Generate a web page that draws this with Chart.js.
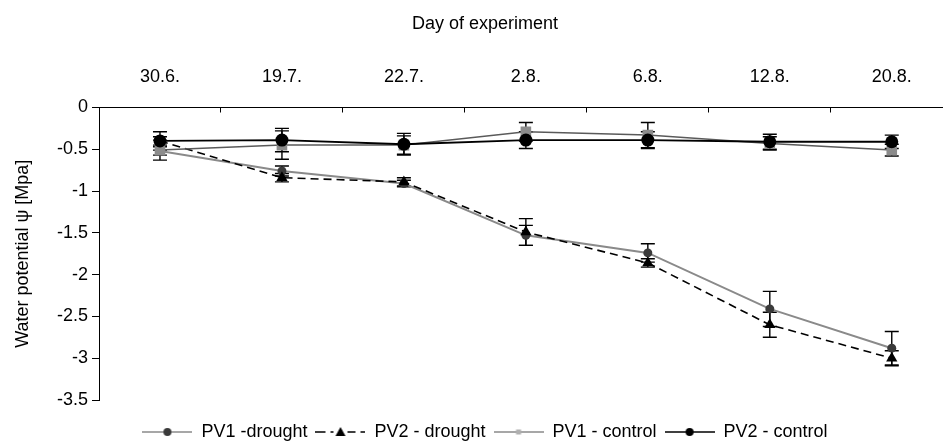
<!DOCTYPE html>
<html>
<head>
<meta charset="utf-8">
<script src="https://cdn.jsdelivr.net/npm/chart.js@4.4.1/dist/chart.umd.min.js"></script>
<style>
  html, body { margin: 0; padding: 0; background: #fff; overflow: hidden; }
  #wrap { width: 943px; height: 441px; overflow: hidden; position: relative; }
  #c { display: block; }
</style>
</head>
<body>
<div id="wrap"><canvas id="c" width="970" height="451"></canvas></div>
<script>
// ---- data ----
const days = ['30.6.', '19.7.', '22.7.', '2.8.', '6.8.', '12.8.', '20.8.'];
const yTicks = [0, -0.5, -1, -1.5, -2, -2.5, -3, -3.5];

const seriesNames = ['PV1 -drought', 'PV2 - drought', 'PV1 - control', 'PV2 - control'];

const pv1Drought    = [-0.52, -0.76, -0.91, -1.53, -1.74, -2.41, -2.88];
const pv1DroughtErr = [0.05, 0.06, 0.04, 0.12, 0.11, 0.21, 0.20];

const pv2Drought    = [-0.40, -0.84, -0.89, -1.49, -1.86, -2.60, -3.00];
const pv2DroughtErr = [0.05, 0.05, 0.05, 0.16, 0.05, 0.15, 0.09];

const pv1Control    = [-0.51, -0.45, -0.45, -0.29, -0.33, -0.43, -0.51];
const pv1ControlErr = [0.12, 0.17, 0.11, 0.11, 0.15, 0.08, 0.07];

const pv2Control    = [-0.40, -0.39, -0.44, -0.39, -0.39, -0.41, -0.41];
const pv2ControlErr = [0.11, 0.14, 0.13, 0.10, 0.10, 0.09, 0.08];

const errors = [pv1DroughtErr, pv2DroughtErr, pv1ControlErr, pv2ControlErr];

// ---- styles ----
const FONT = "'Liberation Sans', Arial, sans-serif";
Chart.defaults.font.family = FONT;
Chart.defaults.color = '#000';

// legend sample icons (line + marker)
function makeIcon(lineColor, dash, lineWidth, drawMarker) {
  const cv = document.createElement('canvas');
  cv.width = 50; cv.height = 18;
  const g = cv.getContext('2d');
  g.strokeStyle = lineColor; g.lineWidth = lineWidth;
  g.setLineDash(dash);
  g.beginPath(); g.moveTo(0, 9); g.lineTo(50, 9); g.stroke();
  g.setLineDash([]);
  drawMarker(g, 25, 9);
  return cv;
}
const icons = [
  makeIcon('#8a8a8a', [], 1.5, (g, x, y) => { g.fillStyle = '#3a3a3a'; g.beginPath(); g.arc(x, y, 4, 0, Math.PI * 2); g.fill(); }),
  makeIcon('#000', [10, 5], 1.5, (g, x, y) => {
    g.fillStyle = '#fff'; g.fillRect(x - 7, y - 2, 14, 4);
    g.fillStyle = '#000'; g.beginPath(); g.moveTo(x, y - 5); g.lineTo(x + 5, y + 4); g.lineTo(x - 5, y + 4); g.closePath(); g.fill();
  }),
  makeIcon('#8a8a8a', [], 1.5, (g, x, y) => { g.fillStyle = '#b0b0b0'; g.fillRect(x - 2.5, y - 2.5, 5, 5); }),
  makeIcon('#000', [], 1.5, (g, x, y) => { g.fillStyle = '#000'; g.beginPath(); g.arc(x, y, 4, 0, Math.PI * 2); g.fill(); })
];

const errorBars = {
  id: 'errorBars',
  beforeDatasetsDraw(chart) {
    const ctx = chart.ctx, xs = chart.scales.x, ys = chart.scales.y;
    const cap = 7;
    ctx.save();
    ctx.strokeStyle = '#000';
    ctx.lineWidth = 1.4;
    chart.data.datasets.forEach((ds, di) => {
      ds.data.forEach((v, i) => {
        const e = errors[di][i];
        const px = xs.getPixelForValue(i);
        const t = ys.getPixelForValue(v + e);
        const b = ys.getPixelForValue(v - e);
        ctx.beginPath();
        ctx.moveTo(px, t); ctx.lineTo(px, b);
        ctx.moveTo(px - cap, t); ctx.lineTo(px + cap, t);
        ctx.moveTo(px - cap, b); ctx.lineTo(px + cap, b);
        ctx.stroke();
      });
    });
    ctx.restore();
  }
};

new Chart(document.getElementById('c'), {
  type: 'line',
  data: {
    labels: days.map((d, i) => i),
    datasets: [
      { label: seriesNames[0], data: pv1Drought, order: 3,
        borderColor: '#8a8a8a', borderWidth: 2, pointStyle: 'circle', pointRadius: 4.5,
        pointBackgroundColor: '#3a3a3a', pointBorderColor: '#3a3a3a', pointBorderWidth: 0 },
      { label: seriesNames[1], data: pv2Drought, order: 2,
        borderColor: '#000', borderWidth: 1.6, borderDash: [8, 5], pointStyle: 'triangle', pointRadius: 6.5,
        pointBackgroundColor: '#000', pointBorderColor: '#000', pointBorderWidth: 0 },
      { label: seriesNames[2], data: pv1Control, order: 1,
        borderColor: '#5a5a5a', borderWidth: 1.5, pointStyle: 'rect', pointRadius: 7.5,
        pointBackgroundColor: '#8c8c8c', pointBorderColor: '#8c8c8c', pointBorderWidth: 0 },
      { label: seriesNames[3], data: pv2Control, order: 0,
        borderColor: '#000', borderWidth: 1.8, pointStyle: 'circle', pointRadius: 6.5,
        pointBackgroundColor: '#000', pointBorderColor: '#000', pointBorderWidth: 0 }
    ]
  },
  options: {
    responsive: false,
    animation: false,
    devicePixelRatio: 1,
    layout: { padding: { left: 0, right: 0, top: 0, bottom: 0 } },
    elements: { line: { tension: 0, fill: false } },
    plugins: {
      tooltip: { enabled: false },
      title: {
        display: true, text: 'Day of experiment', position: 'top',
        font: { size: 18, weight: 'normal' }, color: '#000',
        padding: { top: 12.9, bottom: 0 }
      },
      legend: {
        display: true, position: 'bottom',
        labels: {
          usePointStyle: true, pointStyleWidth: 50, padding: 8,
          font: { size: 18 }, color: '#000',
          generateLabels: (chart) => chart.data.datasets.map((ds, i) => ({
            text: ds.label, pointStyle: icons[i], datasetIndex: i,
            fillStyle: '#fff', strokeStyle: '#fff', lineWidth: 0, hidden: false, fontColor: '#000'
          }))
        }
      }
    },
    scales: {
      x: {
        type: 'linear', position: 'top', min: -0.5, max: 6.58,
        afterBuildTicks: (s) => { s.ticks = days.map((d, i) => ({ value: i })); },
        afterFit: (s) => { s.height = 73; },
        ticks: { callback: (v) => days[v], font: { size: 18 }, color: '#000', padding: 25, maxRotation: 0, autoSkip: false },
        grid: { offset: true, drawOnChartArea: false, tickLength: -5, color: '#000', lineWidth: 1 },
        border: { display: true, color: '#000', width: 1 }
      },
      xPad: {
        type: 'linear', position: 'bottom', display: true,
        ticks: { display: false }, grid: { display: false, drawTicks: false }, border: { display: false },
        afterFit: (s) => { s.height = 15; }
      },
      y: {
        type: 'linear', position: 'left', min: -3.5, max: 0,
        afterBuildTicks: (s) => { s.ticks = yTicks.map(v => ({ value: v })); },
        afterFit: (s) => { s.width = 99; },
        ticks: { callback: (v) => String(v), font: { size: 18 }, color: '#000', padding: 4 },
        grid: { drawOnChartArea: false, tickLength: 7, color: '#000', lineWidth: 1 },
        border: { display: true, color: '#000', width: 1 },
        title: { display: true, text: 'Water potential ψ [Mpa]', font: { size: 18 }, color: '#000', padding: { top: 12.2, bottom: 0 } }
      }
    }
  },
  plugins: [errorBars]
});
</script>
</body>
</html>
